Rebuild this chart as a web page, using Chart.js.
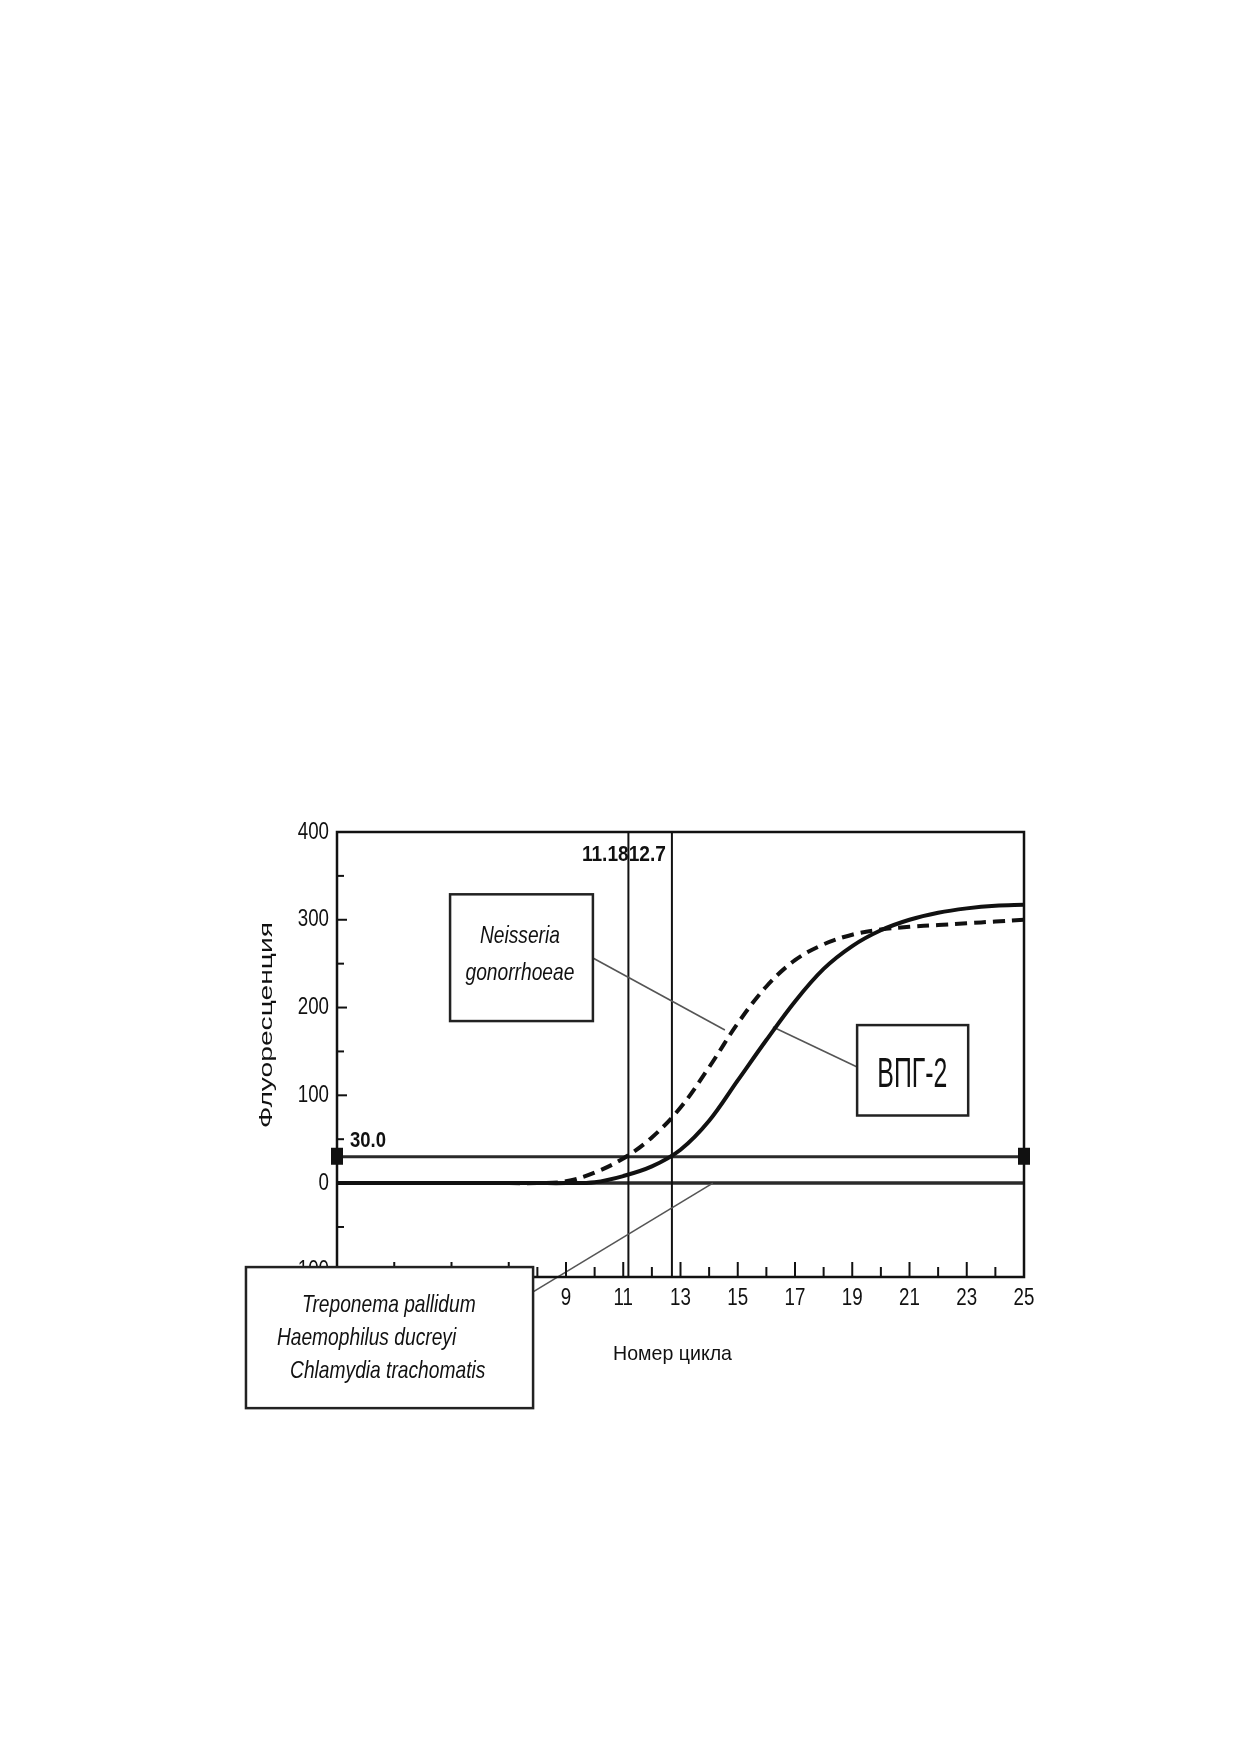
<!DOCTYPE html>
<html>
<head>
<meta charset="utf-8">
<script src="https://cdn.jsdelivr.net/npm/chart.js@4.4.1/dist/chart.umd.min.js"></script>
<style>
  html, body { margin: 0; padding: 0; background: #fff; }
  #wrap { width: 1239px; height: 1752px; position: relative; }
</style>
</head>
<body>
<div id="wrap"><canvas id="c"></canvas></div>
<script>
// ---- data ----
const cycles = [1,2,3,4,5,6,7,8,9,10,11,12,13,14,15,16,17,18,19,20,21,22,23,24,25];
const hsv2Values = [0,0,0,0,0,0,0,0,0,1,8,19,38,71,117,163,207,244,270,288,300,308,313,316,317];
const neisseriaValues = [0,0,0,0,0,0,0,0,2,12,28,52,86,132,182,224,254,272,283,289,292,294,296,298,300];
const yTickValues = [-100,-50,0,50,100,150,200,250,300,350,400];
const thresholdValue = 30;
const thresholdLabel = '30.0';
const ctValues = [11.18, 12.7];
const ctLabel = '11.1812.7';
const xTitle = 'Номер цикла';
const yTitle = 'Флуоресценция';
const neisseriaLabel = ['Neisseria', 'gonorrhoeae'];
const hsv2Label = ['ВПГ-2'];
const negativeLabel = ['Treponema pallidum', 'Haemophilus ducreyi', 'Chlamydia trachomatis'];

const FONT = "'Liberation Sans', Arial, sans-serif";
const NARROW_SX = 0.8;

// annotation geometry in data coordinates
const annotations = {
  neisseriaBox: {x0: 4.95, x1: 9.94, y0: 329, y1: 184.6,
    lines: [{x: 7.39, y: 273.5, align: 'center'}, {x: 7.39, y: 231, align: 'center'}],
    font: 'italic 24px ' + FONT, sx: NARROW_SX, text: neisseriaLabel,
    leader: [[9.94, 256.4], [14.55, 174.4]]},
  hsv2Box: {x0: 19.17, x1: 23.05, y0: 180, y1: 77,
    lines: [{x: 21.1, y: 109.4, align: 'center', width: 70}],
    font: '43px ' + FONT, sx: 0.58, text: hsv2Label,
    leader: [[19.17, 132.2], [16.23, 177.8]]},
  negBox: {x0: -2.18, x1: 7.85, y0: -95.7, y1: -256.4,
    lines: [{x: -0.22, y: -147, align: 'left'}, {x: -1.10, y: -184.6, align: 'left'}, {x: -0.64, y: -222, align: 'left'}],
    font: 'italic 24px ' + FONT, sx: NARROW_SX, text: negativeLabel,
    leader: [[7.85, -124], [14.13, 0]]}
};

const toPts = (vals) => cycles.map((c, i) => ({x: c, y: vals[i]}));

function drawText(ctx, txt, x, y, o) {
  ctx.save();
  ctx.font = o.font;
  ctx.textBaseline = o.baseline || 'alphabetic';
  ctx.textAlign = o.align || 'left';
  const w = ctx.measureText(txt).width;
  const s = o.width ? o.width / w : (o.sx || 1);
  ctx.translate(x, y);
  if (o.rotate) ctx.rotate(o.rotate);
  ctx.scale(s, 1);
  ctx.fillStyle = o.color || '#111';
  ctx.fillText(txt, 0, 0);
  ctx.restore();
}

const overlay = {
  id: 'overlay',
  beforeDatasetsDraw(chart) {
    const ctx = chart.ctx, a = chart.chartArea;
    const xs = chart.scales.x, ys = chart.scales.y;
    ctx.save();
    // baseline at 0
    ctx.strokeStyle = '#2a2a2a';
    ctx.lineWidth = 3.5;
    ctx.beginPath();
    ctx.moveTo(a.left, ys.getPixelForValue(0));
    ctx.lineTo(a.right, ys.getPixelForValue(0));
    ctx.stroke();
    // threshold
    ctx.lineWidth = 3;
    const ty = ys.getPixelForValue(thresholdValue);
    ctx.beginPath();
    ctx.moveTo(a.left, ty);
    ctx.lineTo(a.right, ty);
    ctx.stroke();
    // Ct verticals
    ctx.strokeStyle = '#111';
    ctx.lineWidth = 2;
    ctValues.forEach(v => {
      const px = xs.getPixelForValue(v);
      ctx.beginPath();
      ctx.moveTo(px, a.top);
      ctx.lineTo(px, a.bottom);
      ctx.stroke();
    });
    // leader lines
    ctx.strokeStyle = '#555';
    ctx.lineWidth = 1.6;
    Object.values(annotations).forEach(an => {
      ctx.beginPath();
      ctx.moveTo(xs.getPixelForValue(an.leader[0][0]), ys.getPixelForValue(an.leader[0][1]));
      ctx.lineTo(xs.getPixelForValue(an.leader[1][0]), ys.getPixelForValue(an.leader[1][1]));
      ctx.stroke();
    });
    ctx.restore();
  },
  afterDraw(chart) {
    const ctx = chart.ctx, a = chart.chartArea;
    const xs = chart.scales.x, ys = chart.scales.y;
    ctx.save();
    // frame
    ctx.strokeStyle = '#111';
    ctx.lineWidth = 2.5;
    ctx.strokeRect(a.left, a.top, a.right - a.left, a.bottom - a.top);
    // x ticks (inside, upward) + labels
    ctx.lineWidth = 2;
    xs.ticks.forEach(t => {
      const px = xs.getPixelForValue(t.value);
      const major = (t.value % 2 === 1);
      if (t.value > xs.min && t.value < xs.max) {
        ctx.beginPath();
        ctx.moveTo(px, a.bottom);
        ctx.lineTo(px, a.bottom - (major ? 15 : 10));
        ctx.stroke();
      }
      if (major) {
        drawText(ctx, String(t.value), px, a.bottom + 21,
          {font: '24px ' + FONT, sx: 0.78, align: 'center', baseline: 'middle'});
      }
    });
    // y ticks (inside, rightward) + labels
    ys.ticks.forEach(t => {
      const py = ys.getPixelForValue(t.value);
      const major = (t.value % 100 === 0);
      if (t.value < ys.max) {
        ctx.beginPath();
        ctx.moveTo(a.left, py);
        ctx.lineTo(a.left + (major ? 10 : 7), py);
        ctx.stroke();
      }
      if (major) {
        drawText(ctx, String(t.value), a.left - 8, py,
          {font: '24px ' + FONT, sx: 0.78, align: 'right', baseline: 'middle'});
      }
    });
    // threshold end markers
    const ty = ys.getPixelForValue(thresholdValue);
    ctx.fillStyle = '#111';
    [xs.min, xs.max].forEach(v => {
      const px = xs.getPixelForValue(v);
      ctx.fillRect(px - 6, ty - 9, 12, 17);
    });
    // threshold label
    drawText(ctx, thresholdLabel, a.left + 13, ty - 16,
      {font: 'bold 22px ' + FONT, width: 36, align: 'left', baseline: 'middle'});
    // Ct label
    drawText(ctx, ctLabel, xs.getPixelForValue(ctValues[1]) - 6, a.top + 23,
      {font: 'bold 22px ' + FONT, width: 84, align: 'right', baseline: 'middle'});
    // annotation boxes
    Object.values(annotations).forEach(an => {
      const x0 = xs.getPixelForValue(an.x0), x1 = xs.getPixelForValue(an.x1);
      const y0 = ys.getPixelForValue(an.y0), y1 = ys.getPixelForValue(an.y1);
      ctx.fillStyle = '#fff';
      ctx.fillRect(x0, y0, x1 - x0, y1 - y0);
      ctx.strokeStyle = '#222';
      ctx.lineWidth = 2.5;
      ctx.strokeRect(x0, y0, x1 - x0, y1 - y0);
      an.text.forEach((txt, i) => {
        const l = an.lines[i];
        drawText(ctx, txt, xs.getPixelForValue(l.x), ys.getPixelForValue(l.y),
          {font: an.font, sx: an.sx, width: l.width, align: l.align, baseline: 'alphabetic'});
      });
    });
    // axis titles
    drawText(ctx, xTitle, (a.left + a.right) / 2 - 8, a.bottom + 83,
      {font: '21px ' + FONT, width: 119, align: 'center', baseline: 'alphabetic'});
    drawText(ctx, yTitle, a.left - 70, ys.getPixelForValue(180),
      {font: '19px ' + FONT, width: 206, align: 'center', baseline: 'middle', rotate: -Math.PI / 2});
    ctx.restore();
  }
};

new Chart(document.getElementById('c'), {
  type: 'line',
  data: {
    datasets: [
      {label: 'ВПГ-2', data: toPts(hsv2Values), borderColor: '#111', borderWidth: 4,
       pointRadius: 0, tension: 0.35, fill: false},
      {label: 'Neisseria gonorrhoeae', data: toPts(neisseriaValues), borderColor: '#111', borderWidth: 4,
       borderDash: [12, 7], pointRadius: 0, tension: 0.35, fill: false}
    ]
  },
  options: {
    responsive: true,
    maintainAspectRatio: false,
    animation: false,
    devicePixelRatio: 1,
    layout: {padding: {top: 832, left: 0, right: 215, bottom: 415}},
    plugins: {legend: {display: false}, tooltip: {enabled: false}},
    scales: {
      x: {
        type: 'linear', min: 1, max: 25,
        grid: {display: false, drawTicks: false},
        border: {display: false},
        afterFit: (s) => { s.height = 60; },
        ticks: {display: false, stepSize: 1, autoSkip: false, maxRotation: 0}
      },
      y: {
        type: 'linear', min: -107, max: 400,
        grid: {display: false, drawTicks: false},
        border: {display: false},
        afterFit: (s) => { s.width = 337; },
        afterBuildTicks: (s) => { s.ticks = yTickValues.map(v => ({value: v})); },
        ticks: {display: false}
      }
    }
  },
  plugins: [overlay]
});
</script>
</body>
</html>
